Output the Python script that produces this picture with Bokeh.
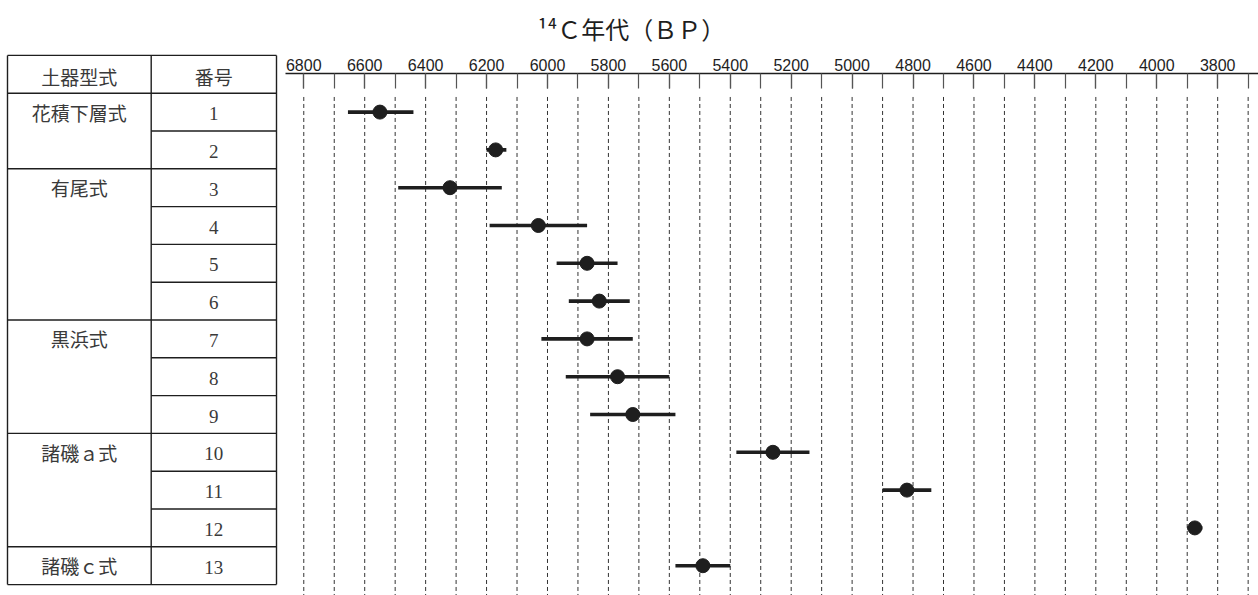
from bokeh.plotting import figure
from bokeh.layouts import row
from bokeh.models import Range1d, FixedTicker, ColumnDataSource
from bokeh.core.properties import value
from bokeh.embed import file_html
from bokeh.resources import INLINE

# ---- data ----
sample_no = ["1", "2", "3", "4", "5", "6", "7", "8", "9", "10", "11", "12", "13"]
age_bp = [6550, 6170, 6320, 6030, 5870, 5830, 5870, 5770, 5720, 5260, 4820, 3875, 5490]
age_old = [6655, 6200, 6490, 6190, 5970, 5930, 6020, 5940, 5860, 5380, 4900, 3900, 5580]
age_young = [6440, 6135, 6150, 5870, 5770, 5730, 5720, 5600, 5580, 5140, 4740, 3850, 5400]
groups = ["花積下層式", "有尾式", "黒浜式", "諸磯ａ式", "諸磯ｃ式"]
group_sizes = [2, 4, 3, 3, 1]
header = ["土器型式", "番号"]
tick_labels = list(range(6800, 3700, -200))
minor_ticks = list(range(6800, 3600, -100))
title_text = "¹⁴Ｃ年代（ＢＰ）"

rows_y = list(range(1, len(sample_no) + 1))
group_first = []
acc = 1
for s in group_sizes:
    group_first.append(acc)
    acc += s
group_ends = [g + s - 1 for g, s in zip(group_first, group_sizes)]

INK = "#1e1e1e"
TXT = "#3a3a3a"
H = 595
Y_TOP_T = -1.952
Y_BOT = 13.788

# ---- table figure ----
TW = 285
t = figure(width=TW, height=H, x_range=Range1d(0, TW), y_range=Range1d(Y_BOT, Y_TOP_T),
           output_backend="svg", toolbar_location=None,
           x_axis_location=None, y_axis_location=None,
           min_border=0, min_border_left=0, min_border_right=0, min_border_top=0, min_border_bottom=0)
t.frame_align = False
t.outline_line_color = None
t.xgrid.visible = False
t.ygrid.visible = False

c0, c1, c2 = 7.0, 150.7, 276.0
top = 0.5 - 1
bottom = len(sample_no) + 0.5
# vertical lines
t.segment(x0=[c0, c1, c2], y0=[top] * 3, x1=[c0, c1, c2], y1=[bottom] * 3,
          line_color=INK, line_width=1.4)
# full-width horizontals
full_y = [top, 0.5] + [e + 0.5 for e in group_ends]
t.segment(x0=[c0] * len(full_y), y0=full_y, x1=[c2] * len(full_y), y1=full_y,
          line_color=INK, line_width=1.4)
# inner horizontals (number column only)
inner_y = [r + 0.5 for r in rows_y if r not in group_ends]
t.segment(x0=[c1] * len(inner_y), y0=inner_y, x1=[c2] * len(inner_y), y1=inner_y,
          line_color=INK, line_width=1.4)

# header text
t.text(x=[(c0 + c1) / 2, (c1 + c2) / 2], y=[0.05, 0.05], text=header,
       text_font=value("Noto Sans CJK JP"), text_font_size="19px",
       text_align="center", text_baseline="middle", text_color=TXT)
# group names
t.text(x=[(c0 + c1) / 2] * len(groups), y=[g + 0.0 for g in group_first], text=groups,
       text_font=value("Noto Sans CJK JP"), text_font_size="19px",
       text_align="center", text_baseline="middle", text_color=TXT)
# numbers
t.text(x=[(c1 + c2) / 2] * len(sample_no), y=[r + 0.04 for r in rows_y], text=sample_no,
       text_font=value("Liberation Serif"), text_font_size="19px",
       text_align="center", text_baseline="middle", text_color=TXT)

# ---- chart figure ----
CW = 973
p = figure(width=CW, height=H, x_range=Range1d(6860, 3666), y_range=Range1d(Y_BOT, -0.021),
           output_backend="svg", toolbar_location=None,
           x_axis_location="above", y_axis_location=None,
           min_border_left=0, min_border_right=0, min_border_bottom=0, min_border_top=73,
           title=title_text)
p.frame_align = False
p.outline_line_color = None
p.xgrid.visible = False
p.ygrid.visible = False
p.title.align = "left"
p.title.offset = 252
p.title.standoff = 16
p.title.vertical_align = "top"
p.title.text_font = "Noto Sans CJK JP"
p.title.text_font_size = "24px"
p.title.text_font_style = "normal"
p.title.text_color = INK

ax = p.xaxis[0]
ax.ticker = FixedTicker(ticks=tick_labels, minor_ticks=minor_ticks)
ax.axis_line_color = INK
ax.axis_line_width = 1.6
ax.major_tick_in = 15
ax.major_tick_out = 0
ax.minor_tick_in = 15
ax.minor_tick_out = 0
ax.major_tick_line_color = "#555555"
ax.minor_tick_line_color = "#555555"
ax.major_tick_line_width = 1.2
ax.minor_tick_line_width = 1.2
ax.major_label_text_font = "Liberation Sans"
ax.major_label_text_font_size = "16px"
ax.major_label_text_color = INK
ax.major_label_standoff = 3

# dashed guide lines
p.segment(x0=minor_ticks, y0=[0.6] * len(minor_ticks), x1=minor_ticks, y1=[Y_BOT] * len(minor_ticks),
          line_color="#333333", line_width=1, line_dash="4 3")

src = ColumnDataSource(dict(y=rows_y, c=age_bp, lo=age_old, hi=age_young))
p.segment(x0="lo", y0="y", x1="hi", y1="y", source=src, line_color=INK, line_width=3.6)
p.scatter(x="c", y="y", source=src, size=14, marker="circle", fill_color=INK, line_color=INK)

layout = row(t, p)
open("out.html", "w").write(file_html(layout, INLINE))
